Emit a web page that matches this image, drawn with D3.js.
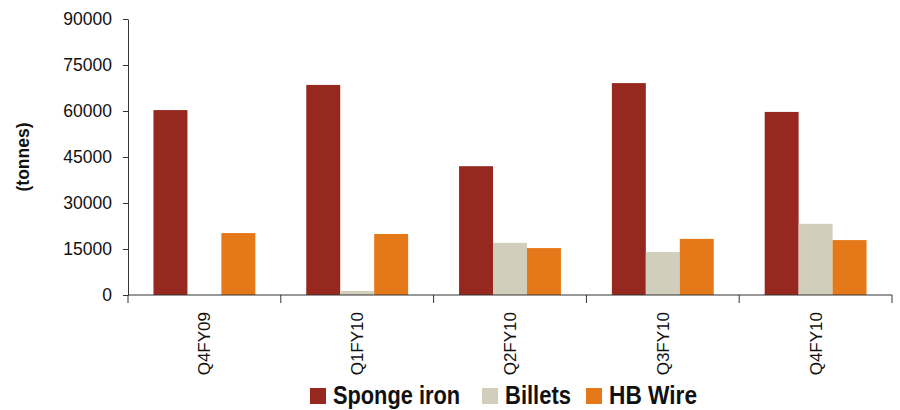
<!DOCTYPE html>
<html>
<head>
<meta charset="utf-8">
<script src="https://cdn.jsdelivr.net/npm/d3@7"></script>
<style>
  body { margin: 0; background: #fff; }
  svg { display: block; }
  .axis path, .axis line { stroke: #333; }
</style>
</head>
<body>
<svg id="chart" width="900" height="410"></svg>
<script>
// Chart data
const quarters = ["Q4FY09", "Q1FY10", "Q2FY10", "Q3FY10", "Q4FY10"];
const seriesNames = ["Sponge iron", "Billets", "HB Wire"];
const spongeIron = [60300, 68500, 42000, 69100, 59700];
const billets = [0, 1300, 17000, 14000, 23200];
const hbWire = [20200, 19900, 15300, 18300, 17900];
const yTicks = [0, 15000, 30000, 45000, 60000, 75000, 90000];
const seriesColors = ["#96281f", "#d1cfbc", "#e57818"];

const seriesValues = [spongeIron, billets, hbWire];
const dataset = quarters.map((q, i) => ({
    quarter: q,
    values: seriesNames.map((s, j) => ({ series: s, value: seriesValues[j][i] }))
}));

// Dimensions
const dimensions = {
    width: 900,
    height: 410,
    margin: { top: 19, right: 8, bottom: 115, left: 128 }
};
const plotBottom = dimensions.height - dimensions.margin.bottom;
const baseFont = "'Liberation Sans', Arial, sans-serif";

const svg = d3.select("#chart");

const x0 = d3.scaleBand()
    .domain(quarters)
    .range([dimensions.margin.left, dimensions.width - dimensions.margin.right])
    .paddingInner(1 / 3)
    .paddingOuter(1 / 6);

const x1 = d3.scaleBand()
    .domain(seriesNames)
    .range([0, x0.bandwidth()]);

const yScale = d3.scaleLinear()
    .domain([0, 90000])
    .range([plotBottom, dimensions.margin.top]);

const colorScale = d3.scaleOrdinal()
    .domain(seriesNames)
    .range(seriesColors);

// Bars
svg.append("g")
    .selectAll("g")
    .data(dataset)
    .join("g")
    .attr("transform", d => `translate(${x0(d.quarter)},0)`)
    .selectAll("rect")
    .data(d => d.values)
    .join("rect")
    .attr("x", d => x1(d.series))
    .attr("y", d => yScale(d.value))
    .attr("width", x1.bandwidth())
    .attr("height", d => plotBottom - yScale(d.value))
    .attr("fill", d => colorScale(d.series));

// Y axis
const yAxis = svg.append("g")
    .attr("class", "axis")
    .attr("transform", `translate(${dimensions.margin.left},0)`)
    .call(d3.axisLeft(yScale).tickValues(yTicks).tickFormat(d3.format("d")).tickSize(5).tickPadding(11).tickSizeOuter(0));
yAxis.selectAll("text")
    .style("font-family", baseFont)
    .style("font-size", "17.5px")
    .attr("fill", "#111");

// X axis: ticks at category boundaries
const step = x0.step();
const boundaries = d3.range(quarters.length + 1).map(i => dimensions.margin.left + i * step);
const xAxis = svg.append("g").attr("class", "axis");
xAxis.append("line")
    .attr("x1", dimensions.margin.left)
    .attr("x2", dimensions.width - dimensions.margin.right)
    .attr("y1", plotBottom)
    .attr("y2", plotBottom);
xAxis.selectAll("line.tick")
    .data(boundaries)
    .join("line")
    .attr("class", "tick")
    .attr("x1", d => d)
    .attr("x2", d => d)
    .attr("y1", plotBottom)
    .attr("y2", plotBottom + 8);
xAxis.selectAll("text")
    .data(quarters)
    .join("text")
    .attr("transform", d => `translate(${x0(d) + x0.bandwidth() / 2},${plotBottom + 17}) rotate(-90)`)
    .attr("dy", "0.35em")
    .attr("text-anchor", "end")
    .style("font-family", baseFont)
    .style("font-size", "17px")
    .attr("fill", "#111")
    .text(d => d);

// Y axis title (condensed look via textLength)
svg.append("text")
    .attr("transform", `translate(22,${(dimensions.margin.top + plotBottom) / 2}) rotate(-90)`)
    .attr("text-anchor", "middle")
    .attr("dy", "0.35em")
    .attr("textLength", 69)
    .attr("lengthAdjust", "spacingAndGlyphs")
    .style("font-family", baseFont)
    .style("font-weight", "bold")
    .style("font-size", "19px")
    .attr("fill", "#111")
    .text("(tonnes)");

// Legend
const legendItems = [
    { name: "Sponge iron", x: 310, w: 127 },
    { name: "Billets", x: 482, w: 66 },
    { name: "HB Wire", x: 586, w: 88 }
];
const legend = svg.append("g")
    .selectAll("g")
    .data(legendItems)
    .join("g")
    .attr("transform", d => `translate(${d.x},388)`);
legend.append("rect")
    .attr("width", 16)
    .attr("height", 16)
    .attr("fill", d => colorScale(d.name));
legend.append("text")
    .attr("x", 23)
    .attr("y", 16)
    .attr("textLength", d => d.w)
    .attr("lengthAdjust", "spacingAndGlyphs")
    .style("font-family", baseFont)
    .style("font-weight", "bold")
    .style("font-size", "25px")
    .attr("fill", "#111")
    .text(d => d.name);
</script>
</body>
</html>
